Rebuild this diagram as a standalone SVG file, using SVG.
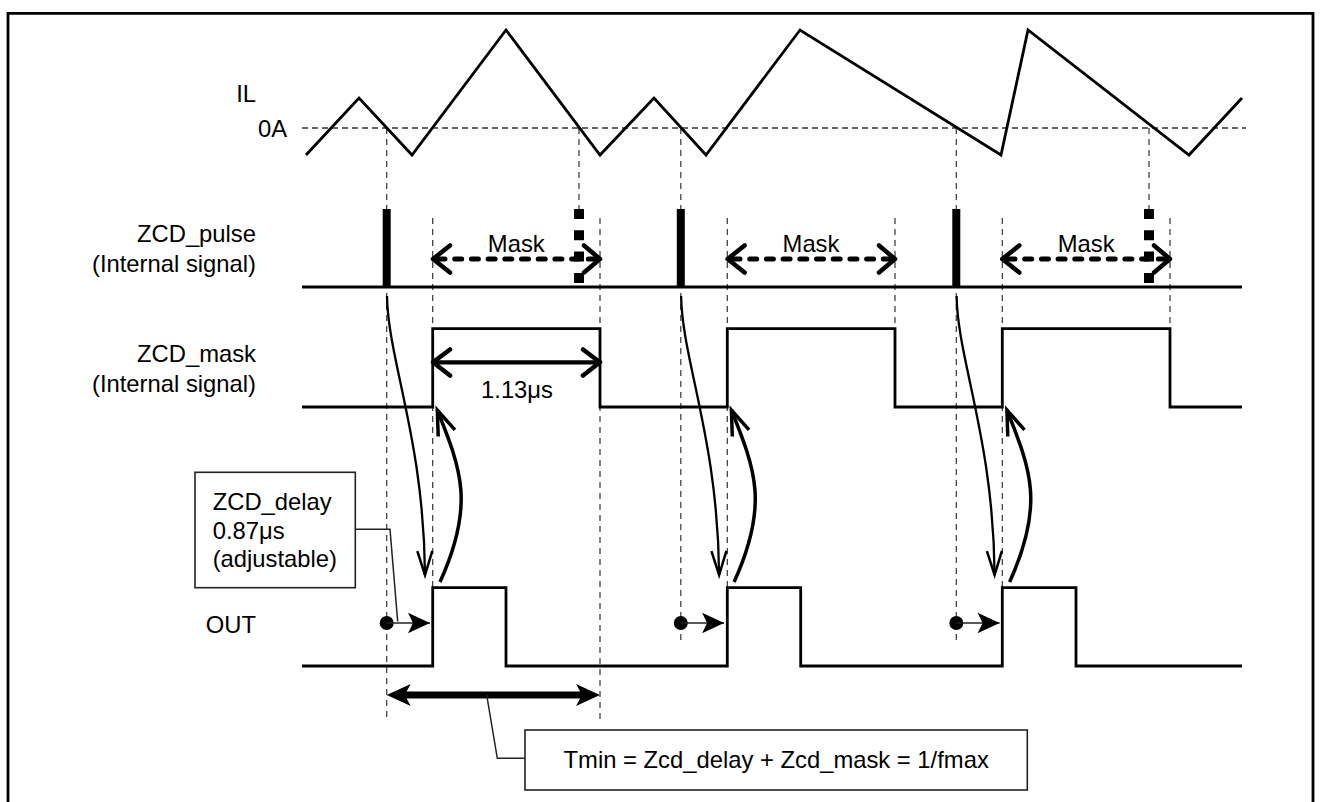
<svg xmlns="http://www.w3.org/2000/svg" width="1321" height="802" viewBox="0 0 1321 802">
<style>
text{font-family:"Liberation Sans",Arial,sans-serif;font-size:23.8px;fill:#000}
.end{text-anchor:end}
.mid{text-anchor:middle}
.sig{fill:none;stroke:#000;stroke-width:2.8;stroke-linejoin:miter}
.guide{fill:none;stroke:#333;stroke-width:1.2;stroke-dasharray:6 5}
.zero{fill:none;stroke:#333;stroke-width:1.3;stroke-dasharray:6 4}
.maskline{fill:none;stroke:#000;stroke-width:5;stroke-linecap:round;stroke-dasharray:7 9.7}
.chev{fill:none;stroke:#000;stroke-width:4.5;stroke-linecap:round;stroke-linejoin:round}
.thin{fill:none;stroke:#222;stroke-width:1.5}
.box{fill:#fff;stroke:#222;stroke-width:1.6}
.down{fill:none;stroke:#000;stroke-width:2.3}
.up{fill:none;stroke:#000;stroke-width:3.5}
</style>
<defs>
<marker id="headDown" markerUnits="userSpaceOnUse" viewBox="-30 -15 34 30" markerWidth="34" markerHeight="30" refX="0" refY="0" orient="auto" overflow="visible">
<path d="M-24,-7.5 L0,0 L-24,7.5" fill="none" stroke="#000" stroke-width="2.5" stroke-linejoin="miter"/>
</marker>
<marker id="headUp" markerUnits="userSpaceOnUse" viewBox="-30 -15 34 30" markerWidth="34" markerHeight="30" refX="0" refY="0" orient="auto" overflow="visible">
<path d="M-25,-9 L0,0 L-25,9" fill="none" stroke="#000" stroke-width="3.5" stroke-linejoin="miter"/>
</marker>
<marker id="stealth" markerUnits="userSpaceOnUse" viewBox="-24 -12 26 24" markerWidth="26" markerHeight="24" refX="0" refY="0" orient="auto" overflow="visible">
<path d="M0,0 L-22,-10.3 L-17,0 L-22,10.3 Z" fill="#000"/>
</marker>
<path id="bigHead" d="M0,0 L-24,-11 L-18,0 L-24,11 Z" fill="#000"/>
<g id="curvePair">
<path class="down" d="M387,296 C388,360 424,440 425,575" marker-end="url(#headDown)"/>
<path class="up" d="M440,582 C475,505 461.4,470.3 437.3,410" marker-end="url(#headUp)"/>
</g>
<g id="dotArrow">
<circle cx="386.7" cy="623" r="7" fill="#000"/>
<path class="thin" d="M386.7,623 H430" marker-end="url(#stealth)"/>
</g>
</defs>

<g id="frame">
<path d="M8,802 V13.3 H1313 V802" fill="none" stroke="#000" stroke-width="2.8"/>
</g>

<g id="guides">
<path class="zero" d="M302,128 H1246"/>
<path class="guide" d="M386.7,128 V720 M579,128 V209 M680.8,128 V645 M956.3,128 V645 M1149,128 V209 M432.7,218 V588 M727.3,218 V588 M1002.3,218 V588 M600,218 V720 M895,218 V407 M1170,218 V407"/>
</g>

<g id="labels">
<text class="end" x="256" y="102">IL</text>
<text class="end" x="287" y="136.5">0A</text>
<text class="end" x="256" y="241.7">ZCD_pulse</text>
<text class="end" x="256" y="271.7">(Internal signal)</text>
<text class="end" x="256" y="361.7">ZCD_mask</text>
<text class="end" x="256" y="391.7">(Internal signal)</text>
<text class="end" x="256" y="633.3">OUT</text>
</g>

<g id="IL-wave">
<path class="sig" d="M306,155 L359,98 L412,155 L506,30 L600,155 L654,98 L706,155 L800,30 L1001,155 L1028,30 L1189,155 L1242,98"/>
</g>

<g id="ZCD-pulse">
<path class="sig" d="M302,287 H1242"/>
<path d="M386.7,209 V287 M680.8,209 V287 M956.3,209 V287" stroke="#000" stroke-width="8" fill="none"/>
<path d="M579,209 V284 M1149,209 V284" stroke="#000" stroke-width="10" stroke-dasharray="10 11.3" fill="none"/>
</g>

<g id="mask-arrows">
<path class="maskline" d="M438,259 H595 M733,259 H890 M1008,259 H1165"/>
<path class="chev" d="M450,245.5 L433,259 L450,272.5 M584,245.5 L600,259 L584,272.5"/>
<path class="chev" d="M744.6,245.5 L727.6,259 L744.6,272.5 M879,245.5 L895,259 L879,272.5"/>
<path class="chev" d="M1019.3,245.5 L1002.3,259 L1019.3,272.5 M1154,245.5 L1170,259 L1154,272.5"/>
<text class="mid" x="516.3" y="251.7">Mask</text>
<text class="mid" x="811" y="251.7">Mask</text>
<text class="mid" x="1086.2" y="251.7">Mask</text>
</g>

<g id="ZCD-mask">
<path class="sig" d="M302,407 H432.7 V328.7 H600 V407 H727.3 V328.7 H895 V407 H1002.3 V328.7 H1170 V407 H1242"/>
</g>

<g id="mask-width">
<path d="M437,362.3 H596" stroke="#000" stroke-width="4.2" fill="none"/>
<path class="chev" d="M450,349.5 L433,362.3 L450,375.5 M583,349.5 L600,362.3 L583,375.5"/>
<text class="mid" x="517" y="398.3">1.13μs</text>
</g>

<g id="OUT">
<path class="sig" d="M302,666 H432.7 V587.7 H506 V666 H727.3 V587.7 H800.7 V666 H1002.3 V587.7 H1076 V666 H1242"/>
</g>

<g id="zcd-delay-box">
<rect class="box" x="195" y="472.3" width="160.3" height="115.4"/>
<text x="212.7" y="509.5">ZCD_delay</text>
<text x="212.7" y="538.5">0.87μs</text>
<text x="212.7" y="567">(adjustable)</text>
</g>

<g id="tmin-box">
<rect class="box" x="525" y="730" width="502.3" height="60"/>
<text class="mid" x="776.2" y="768">Tmin = Zcd_delay + Zcd_mask = 1/fmax</text>
</g>

<g id="connectors">
<use href="#curvePair"/>
<use href="#curvePair" transform="translate(294.1,0)"/>
<use href="#curvePair" transform="translate(569.6,0)"/>
<use href="#dotArrow"/>
<use href="#dotArrow" transform="translate(294.1,0)"/>
<use href="#dotArrow" transform="translate(569.6,0)"/>
<path class="thin" d="M355.3,529.3 H390 L397.7,621.5"/>
<path d="M402,695 H585" stroke="#000" stroke-width="7" fill="none"/>
<use href="#bigHead" transform="translate(386.7,695) rotate(180)"/>
<use href="#bigHead" transform="translate(600,695)"/>
<path class="thin" d="M486.7,695 L497.3,758.3 H525"/>
</g>
</svg>
